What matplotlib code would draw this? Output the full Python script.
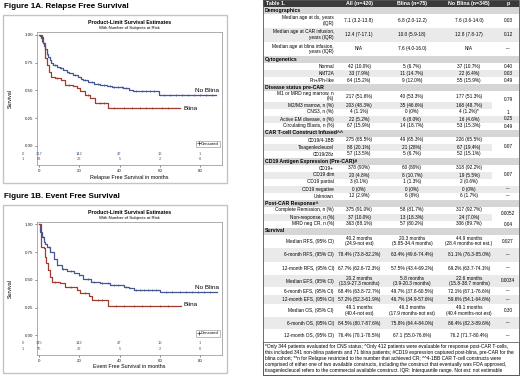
import matplotlib
matplotlib.use('Agg')
import matplotlib.pyplot as plt
from matplotlib.patches import Rectangle
from matplotlib.lines import Line2D
import numpy as np

plt.rcParams['font.family'] = ['Liberation Sans', 'DejaVu Sans']

# ---------------- KM data ----------------
rfs_noblina_t = [0, 0.5, 1, 1.5, 2, 2.5, 3, 3.7, 4.5, 5.3, 6, 7, 8.6, 10.3, 12, 13.6, 15, 17, 19.4, 21, 22, 24, 27, 30, 33.5, 36, 41.8, 44.9, 46.8, 59.8, 88]
rfs_noblina_s = [1.0, 0.99, 0.97, 0.95, 0.925, 0.90, 0.87, 0.83, 0.80, 0.77, 0.75, 0.73, 0.71, 0.70, 0.68, 0.67, 0.655, 0.64, 0.62, 0.605, 0.59, 0.575, 0.56, 0.55, 0.535, 0.53, 0.52, 0.50, 0.49, 0.46, 0.46]
rfs_blina_t = [0, 1.2, 2, 2.8, 3.7, 5, 5.6, 7.8, 11, 12.8, 17, 18.6, 20.2, 22.7, 25.2, 27.7, 34.4, 70]
rfs_blina_s = [1.0, 0.98, 0.925, 0.79, 0.73, 0.67, 0.62, 0.61, 0.59, 0.55, 0.54, 0.52, 0.49, 0.46, 0.43, 0.39, 0.34, 0.34]
rfs_noblina_cens = [1.5, 4, 8, 11, 14, 18, 23, 26, 29, 32, 35, 37, 39, 41, 43, 48, 51, 53, 55, 57, 62, 65, 68, 71, 74, 77, 80, 83, 86]
rfs_blina_cens = [9, 15, 24, 30, 32, 37, 42, 46, 50, 53, 56, 61, 64]
rfs_risk_noblina = [317, 142, 47, 16, 1]
rfs_risk_blina = [58, 22, 5, 2, 0]

efs_noblina_t = [0, 0.5, 1.3, 2.2, 3, 3.8, 5.5, 7.2, 8.8, 11.3, 13.8, 17.1, 19.6, 22, 25.5, 30.4, 35.4, 42, 44.6, 47, 60, 88.7]
efs_noblina_s = [1.0, 0.93, 0.89, 0.84, 0.82, 0.80, 0.75, 0.69, 0.63, 0.60, 0.58, 0.56, 0.54, 0.51, 0.485, 0.47, 0.455, 0.44, 0.425, 0.41, 0.39, 0.39]
efs_blina_t = [0, 0.7, 2.2, 2.7, 3.5, 4.2, 5.5, 6.3, 10.5, 13, 18.8, 20.5, 24.6, 26.3, 34.1, 70.4]
efs_blina_s = [1.0, 0.80, 0.785, 0.71, 0.65, 0.59, 0.53, 0.485, 0.47, 0.44, 0.41, 0.38, 0.35, 0.32, 0.26, 0.26]
efs_noblina_cens = [2, 5, 9, 12, 16, 20, 24, 27, 31, 34, 37, 39, 43, 48, 50, 52, 54, 56, 58, 63, 66, 70, 73, 76, 79, 82, 85]
efs_blina_cens = [8, 16, 23, 29, 31, 38, 42, 47, 51, 55, 60, 64]
efs_risk_noblina = [345, 142, 47, 16, 1]
efs_risk_blina = [75, 22, 5, 2, 0]
risk_times = [0, 20, 40, 60, 80]

# ---------------- Table data ----------------
table_header = ["Table 1.", "All (n=420)", "Blina (n=75)", "No Blina (n=345)", "p"]
table_labels = [
    "Demographics",
    "Median age at dx, years\n(IQR)",
    "Median age at CAR infusion,\nyears (IQR)",
    "Median age at blina infusion,\nyears (IQR)",
    "Cytogenetics",
    "Normal", "KMT2A", "Ph+/Ph-like",
    "Disease status pre-CAR",
    "M1 or MRD neg marrow, n\n(%)", "M2/M3 marrow, n (%)", "CNS3, n (%)",
    "Active EM disease, n (%)", "Circulating Blasts, n (%)",
    "CAR T-cell Construct Infused^^",
    "CD19/4-1BB", "Tisagenlecleucel", "CD19/28z",
    "CD19 Antigen Expression (Pre-CAR)#",
    "CD19+", "CD19 dim", "CD19 partial", "CD19 negative", "Unknown",
    "Post-CAR Response^",
    "Complete Remission, n (%)", "Non-response, n (%)", "MRD neg CR, n (%)",
    "Survival",
    "Median RFS, (95% CI)", "6-month RFS, (95% CI)", "12-month RFS, (95% CI)",
    "Median EFS, (95% CI)", "6-month EFS, (95% CI)", "12-month EFS, (95% CI)",
    "Median OS, (95% CI)", "6-month OS, (95% CI)", "12-month OS, (95% CI)",
]
table_all = [
    None, "7.1 (3.2-13.8)", "12.4 (7-17.1)", "N/A",
    None, "42 (10.0%)", "33 (7.9%)", "64 (15.2%)",
    None, "217 (51.6%)", "203 (48.3%)", "4 (1.1%)", "22 (5.2%)", "67 (15.9%)",
    None, "275 (65.5%)", "88 (20.1%)", "57 (13.5%)",
    None, "378 (90%)", "20 (4.8%)", "3 (0.1%)", "0 (0%)", "12 (2.9%)",
    None, "375 (91.0%)", "37 (10.0%)", "363 (88.1%)",
    None, "40.2 months\n(24.9-not est)", "78.4% (73.8-82.2%)", "67.7% (62.6-72.3%)",
    "20.2 months\n(13.9-27.3 months)", "68.4% (63.8-72.7%)", "57.2% (52.3-61.9%)",
    "49.1 months\n(40.4-not est)", "84.5% (80.7-87.6%)", "76.4% (70.1-78.5%)",
]
table_blina = [
    None, "6.8 (2.0-12.2)", "10.0 (5.9-18)", "7.6 (4.0-16.0)",
    None, "5 (6.7%)", "11 (14.7%)", "9 (12.0%)",
    None, "40 (53.3%)", "35 (46.6%)", "0 (0%)", "6 (8.0%)", "14 (18.7%)",
    None, "49 (65.3%)", "21 (28%)", "5 (6.7%)",
    None, "60 (80%)", "8 (10.7%)", "1 (1.3%)", "0 (0%)", "6 (8%)",
    None, "58 (81.7%)", "13 (18.3%)", "57 (80.2%)",
    None, "20.3 months\n(5.85-34.4 months)", "63.4% (49.6-74.4%)", "57.5% (43.4-69.2%)",
    "5.8 months\n(3.9-20.3 months)", "49.7% (37.8-60.5%)", "46.7% (34.9-57.6%)",
    "46.3 months\n(17.9 months-not est)", "75.8% (64.4-84.0%)", "67.1 (55.0-76.6%)",
]
table_noblina = [
    None, "7.6 (3.6-14.0)", "12.8 (7.8-17)", "N/A",
    None, "37 (10.7%)", "22 (6.4%)", "55 (15.9%)",
    None, "177 (51.3%)", "168 (48.7%)", "4 (1.2%)*", "16 (4.6%)", "53 (15.3%)",
    None, "226 (65.5%)", "67 (19.4%)", "52 (15.1%)",
    None, "318 (92.2%)", "19 (5.5%)", "2 (0.6%)", "0 (0%)", "6 (1.7%)",
    None, "317 (92.7%)", "24 (7.0%)", "306 (89.7%)",
    None, "44.9 months\n(28.4 months-not est.)", "81.1% (76.3-85.0%)", "69.2% (63.7-74.1%)",
    "22.6 months\n(15.8-38.7 months)", "72.1% (67.1-76.6%)", "59.6% (54.1-64.6%)",
    "49.1 months\n(40.4 months-not est)", "86.4% (82.3-89.6%)", "76.2 (71.7-80.4%)",
]
table_p = [
    None, "0.03", "0.12", "---",
    None, "0.40", "0.03", "0.49",
    None, "0.79", "", "1", "0.25", "0.49",
    None, "0.07", "", "",
    None, "0.07", "", "", "---", "---",
    None, "0.0052", "", "0.04",
    None, "0.027", "---", "---", "0.0034", "---", "---", "0.30", "---", "---",
]
table_p_span = {9: 2, 15: 3, 19: 3, 25: 2}
footnote_lines = [
    "*Only 344 patients evaluated for CNS status; ^Only 412 patients were evaluable for response post-CAR T-cells,",
    "this included 341 non-blina patients and 71 blina patients; #CD19 expression captured post-blina, pre-CAR for the",
    "blina cohort; **n for Relapse restricted to the number that achieved CR; ^^4-1BB CAR T-cell constructs were",
    "comprised of either one of two available constructs, including the construct that eventually was FDA approved,",
    "tisagenlecleucel refers to the commercial available construct. IQR: Interquartile range. Not est: not estimable",
]

# ---------------- layout (pixels) ----------------
W, H = 520, 376
row_heights = [6.5, 14, 14, 14.5, 7, 7, 7, 7, 7, 10.5] + [7] * 18 + [7, 13.5, 13.5, 13.5, 12, 8, 9, 13, 12, 13]
BLUE = "#445694"
RED = "#A23A2E"

fig = plt.figure(figsize=(W / 100, H / 100), dpi=100)
bg = fig.add_axes([0, 0, 1, 1])
bg.set_xlim(0, W)
bg.set_ylim(H, 0)
bg.axis('off')


def step_at(ts, ss, x):
    i = np.searchsorted(np.asarray(ts), x, side='right') - 1
    return np.asarray(ss)[i]


def km_panel(off, fig_title, xlabel, nb_t, nb_s, bl_t, bl_s, nb_c, bl_c, r_nb, r_bl, nb_lab_y, bl_lab_y):
    bg.text(4, 6.5 + off, fig_title, fontsize=5.8, fontweight='bold', va='center', ha='left')
    bg.add_patch(Rectangle((3, 15 + off), 224, 168, fill=False, edgecolor='#c4c4c4', lw=1.0))
    bg.text(129.5, 22.5 + off, "Product-Limit Survival Estimates", fontsize=3.8, fontweight='bold', ha='center', va='center')
    bg.text(129.5, 28 + off, "With Number of Subjects at Risk", fontsize=3.1, ha='center', va='center')
    ax = fig.add_axes([37 / W, 1 - (165 + off) / H, 185 / W, 133 / H])
    ax.set_xlim(-1.15, 90.97)
    ax.set_ylim(-0.174, 1.027)
    for sp in ax.spines.values():
        sp.set_color('#a0a0a0')
        sp.set_linewidth(0.6)
    ax.step(nb_t, nb_s, where='post', color=BLUE, lw=0.9)
    ax.step(bl_t, bl_s, where='post', color=RED, lw=0.9)
    ax.plot(nb_c, step_at(nb_t, nb_s, nb_c), ls='none', marker='|', ms=2.0, mew=0.5, color=BLUE)
    ax.plot(bl_c, step_at(bl_t, bl_s, bl_c), ls='none', marker='|', ms=2.0, mew=0.5, color=RED)
    ax.set_yticks([0, 0.25, 0.5, 0.75, 1.0])
    ax.set_yticklabels(["0.00", "0.25", "0.50", "0.75", "1.00"])
    ax.set_xticks(risk_times)
    ax.tick_params(labelsize=3.2, length=1.5, width=0.5, pad=1.5, color='#555555', labelcolor='#222222')
    ax.text(-0.146, 0.5, "Survival", rotation=90, transform=ax.transAxes, fontsize=3.8, ha='center', va='center')
    ax.text(0.5, -0.092, xlabel, transform=ax.transAxes, fontsize=3.9, ha='center', va='center')
    for t, n1, n2 in zip(risk_times, r_nb, r_bl):
        ax.text(t, -0.072, str(n1), color=BLUE, fontsize=2.9, ha='center', va='center')
        ax.text(t, -0.122, str(n2), color=RED, fontsize=2.9, ha='center', va='center')
    ax.text(-0.076, -0.072, "0", color=BLUE, fontsize=3.0, ha='center', va='center', transform=ax.get_yaxis_transform())
    ax.text(-0.076, -0.122, "1", color=RED, fontsize=3.0, ha='center', va='center', transform=ax.get_yaxis_transform())
    ax.text(77.5, nb_lab_y, "No Blina", fontsize=4.6, ha='left', va='center')
    ax.text(71.6, bl_lab_y, "Blina", fontsize=4.6, ha='left', va='center')
    h = Line2D([], [], marker='+', ls='none', color='#333333', ms=2.2, mew=0.5)
    leg = ax.legend([h], ["Censored"], loc='lower right', bbox_to_anchor=(0.99, 0.135), fontsize=3.0,
                    frameon=True, fancybox=False, handlelength=0.6, handletextpad=0.3, borderpad=0.3,
                    borderaxespad=0)
    leg.get_frame().set_edgecolor('#888888')
    leg.get_frame().set_linewidth(0.5)
    return ax


km_panel(0, "Figure 1A. Relapse Free Survival", "Relapse Free Survival in months",
         rfs_noblina_t, rfs_noblina_s, rfs_blina_t, rfs_blina_s, rfs_noblina_cens, rfs_blina_cens,
         rfs_risk_noblina, rfs_risk_blina, 0.50, 0.336)
km_panel(189.5, "Figure 1B. Event Free Survival", "Event Free Survival in months",
         efs_noblina_t, efs_noblina_s, efs_blina_t, efs_blina_s, efs_noblina_cens, efs_blina_cens,
         efs_risk_noblina, efs_risk_blina, 0.43, 0.28)

# ---------------- Table ----------------
TX0, TX1 = 263, 519
col_x = [334, 359, 412, 469, 508]
FS = 3.45
bg.add_patch(Rectangle((TX0, 0), TX1 - TX0, 7, facecolor='#3a3a3a', edgecolor='none'))
bg.text(266, 3.6, table_header[0], color='white', fontsize=3.8, fontweight='bold', ha='left', va='center')
for x, s in zip(col_x[1:], table_header[1:]):
    bg.text(x, 3.6, s, color='white', fontsize=3.8, fontweight='bold', ha='center', va='center')

y = 7.0
row_top = []
k = 0
for i, lab in enumerate(table_labels):
    h = row_heights[i]
    row_top.append(y)
    cy = y + h / 2
    if table_all[i] is None:
        bg.add_patch(Rectangle((TX0, y), TX1 - TX0, h, facecolor='#d6d6d6', edgecolor='none'))
        bg.text(265, cy, lab, fontsize=3.7, fontweight='bold', ha='left', va='center')
        k = 0
    else:
        col = 'white' if k % 2 == 0 else '#eaeaea'
        bg.add_patch(Rectangle((TX0, y), TX1 - TX0, h, facecolor=col, edgecolor='none'))
        bg.text(col_x[0], cy, lab, fontsize=FS, ha='right', va='center', linespacing=1.05)
        for x, s in zip(col_x[1:4], (table_all[i], table_blina[i], table_noblina[i])):
            bg.text(x, cy, s, fontsize=FS, ha='center', va='center', linespacing=1.05)
        k += 1
    y += h

# p column (with merged cells)
for i, p in enumerate(table_p):
    if p is None or p == "":
        continue
    span = table_p_span.get(i, 1)
    top = row_top[i]
    bot = row_top[i + span - 1] + row_heights[i + span - 1]
    if span > 1:
        bg.add_patch(Rectangle((492, top), TX1 - 492, bot - top, facecolor='white', edgecolor='none'))
    bg.text(col_x[4], (top + bot) / 2, p, fontsize=FS, ha='center', va='center')

# footnote
fy = y
bg.add_patch(Rectangle((TX0, fy), TX1 - TX0, H - 1 - fy, facecolor='white', edgecolor='#666666', lw=0.6))
for j, line in enumerate(footnote_lines):
    bg.text(265, fy + 4.6 + j * 6.0, line, fontsize=3.55, ha='left', va='center')
bg.add_patch(Rectangle((TX0, 0), TX1 - TX0, H - 1, fill=False, edgecolor='#555555', lw=0.6))

fig.savefig('out.png', dpi=100)
